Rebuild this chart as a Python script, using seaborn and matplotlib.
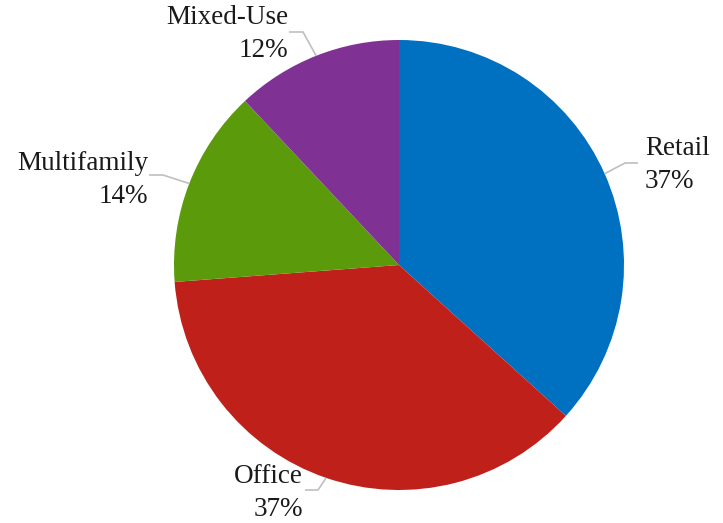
import numpy as np
import matplotlib
matplotlib.use("Agg")
import matplotlib.pyplot as plt
import seaborn as sns

# --- dane ---
categories = ["Retail", "Office", "Multifamily", "Mixed-Use"]
shares = [36.7, 37.1, 14.2, 12.0]
colors = ["#0070C0", "#C0201A", "#5B9A0A", "#7F3293"]

sns.set_theme(style="white")
plt.rcParams['font.family'] = ['Liberation Serif', 'DejaVu Serif']

W, H, DPI = 723, 523, 100
R_PX = 225.0
CX, CY = 399, 265   # srodek kola w pikselach (od gory)

def px(x, y):
    # piksele obrazu -> wspolrzedne danych (promien kola = 1)
    return (x - CX) / R_PX, (CY - y) / R_PX

fig = plt.figure(figsize=(W / DPI, H / DPI), dpi=DPI)
ax = fig.add_axes([0, 0, 1, 1])

palette = sns.color_palette(colors)
wedges, _ = ax.pie(shares, colors=palette, startangle=90, counterclock=False,
                   radius=1, center=(0, 0), wedgeprops=dict(linewidth=0))

ax.set_xlim(px(0, 0)[0], px(W, 0)[0])
ax.set_ylim(px(0, H)[1], px(0, 0)[1])
ax.set_aspect("equal")
ax.axis("off")

# pozycje etykiet (tekst, elbow linii, wyrownanie)
label_layout = {
    "Retail":      dict(text=(645, 165), ha="left",  bend=(625, 163), end=(638, 163)),
    "Office":      dict(text=(303, 493), ha="right", bend=(318, 490), end=(305, 490)),
    "Multifamily": dict(text=(148, 180), ha="right", bend=(163, 175), end=(149, 175)),
    "Mixed-Use":   dict(text=(288, 34),  ha="right", bend=(303, 32),  end=(289, 32)),
}

total = sum(shares)
for w, cat, val in zip(wedges, categories, shares):
    mid = np.deg2rad((w.theta1 + w.theta2) / 2)
    edge = (np.cos(mid), np.sin(mid))
    lay = label_layout[cat]
    bx, by = px(*lay["bend"])
    ex, ey = px(*lay["end"])
    ax.plot([edge[0], bx, ex], [edge[1], by, ey], color="#BFBFBF", lw=1.2,
            solid_capstyle="butt", zorder=1)
    tx, ty = px(*lay["text"])
    ax.text(tx, ty, f"{cat}\n{val / total * 100:.0f}%", ha=lay["ha"], va="center",
            multialignment=lay["ha"], fontsize=19.5, color="#1a1a1a", linespacing=1.4)

plt.savefig("out.png", dpi=DPI)
plt.close()
